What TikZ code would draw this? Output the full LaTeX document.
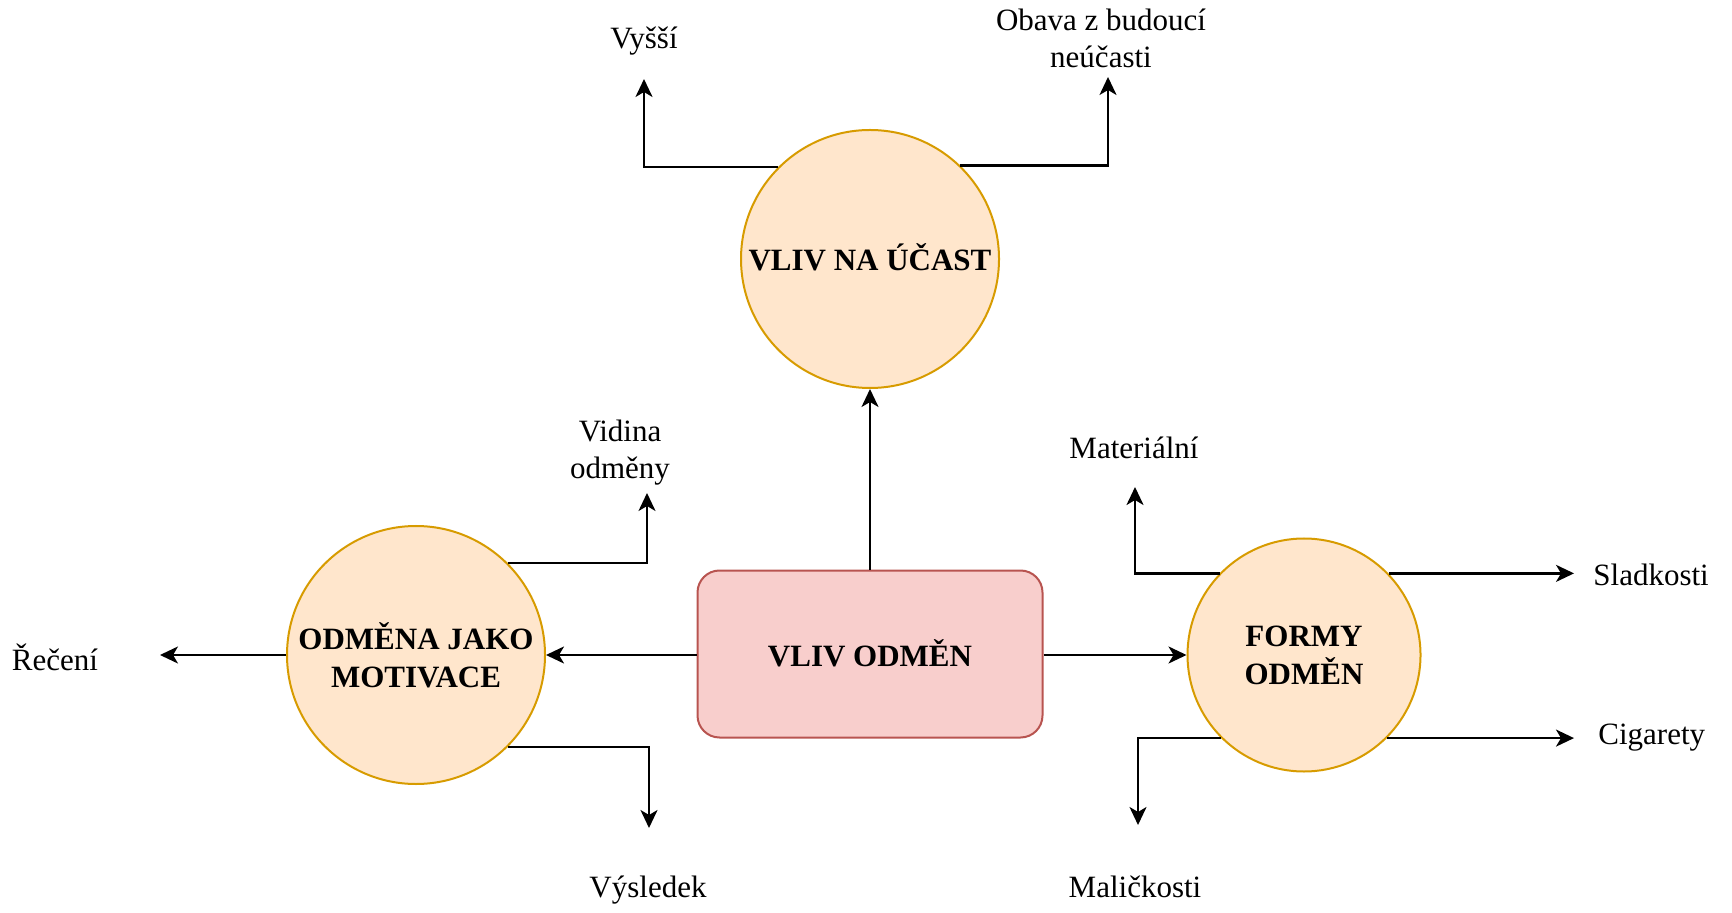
\documentclass[tikz,border=0pt]{standalone}
\usepackage{fontspec}
\setmainfont{Liberation Serif}
\usetikzlibrary{arrows.meta}
\definecolor{circfill}{HTML}{FFE6CC}
\definecolor{circline}{HTML}{D79B00}
\definecolor{boxfill}{HTML}{F8CECC}
\definecolor{boxline}{HTML}{B85450}

\begin{document}
\begin{tikzpicture}[x=0.5pt,y=-0.5pt,
  topic/.style={circle, draw=circline, fill=circfill, line width=1pt, inner sep=0pt,
    font=\fontsize{15.5}{19}\selectfont\bfseries, align=center},
  core/.style={rectangle, rounded corners=11pt, draw=boxline, fill=boxfill, line width=1pt,
    minimum width=172.5pt, minimum height=83.5pt, font=\fontsize{15.5}{19}\selectfont\bfseries},
  lbl/.style={font=\fontsize{15.5}{18.5}\selectfont, align=center, inner sep=0pt},
  arr/.style={-{Stealth[length=9pt,width=8.5pt,inset=2.5pt]}, line width=1.15pt}
]
\useasboundingbox (0,0) rectangle (1732,913);

% central box and the three topic circles
\node[core] (core) at (870,654) {\raisebox{1pt}{VLIV ODMĚN}};
\node[topic, minimum size=129pt] (ucast) at (870,259) {\raisebox{1.5pt}{VLIV NA ÚČAST}};
\node[topic, minimum size=129pt] (motiv) at (416,655) {ODMĚNA JAKO\\MOTIVACE};
\node[topic, minimum size=116.5pt] (formy) at (1304,655) {FORMY\\ODMĚN};

% leaf labels
\node[lbl] (vyssi) at (644,41) {Vyšší};
\node[lbl] (obava) at (1101,38) {Obava z budoucí\\neúčasti};
\node[lbl] (vidina) at (620,453) {Vidina\\odměny};
\node[lbl] (vysledek) at (648,890) {Výsledek};
\node[lbl] (receni) at (55,657) {Řečení};
\node[lbl] (mater) at (1134,448) {Materiální};
\node[lbl] (malic) at (1135,887) {Maličkosti};
\node[lbl, anchor=west] (sladk) at (1593,575) {Sladkosti};
\node[lbl, anchor=west] (cigar) at (1598,738) {Cigarety};

% arrow tips in front of the labels
\coordinate (tVyssi) at (644,79);
\coordinate (tObava) at (1108,77);
\coordinate (tVidina) at (647,493);
\coordinate (tVysledek) at (649,828);
\coordinate (tReceni) at (160,655);
\coordinate (tMater) at (1135,487);
\coordinate (tMalic) at (1138,825);
\coordinate (tSladk) at (1574,573);
\coordinate (tCigar) at (1574,737);

% from the central box
\draw[arr] (core.north) -- (ucast.south);
\draw[arr] (core.west |- motiv.east) -- (motiv.east);
\draw[arr] (core.east |- formy.west) -- (formy.west);

% branches of the upper circle
\draw[arr] (ucast.135) -| (tVyssi);
\draw[arr] (ucast.46) -| (tObava);

% branches of the left circle
\draw[arr] (motiv.45) -| (tVidina);
\draw[arr] (motiv.-45) -| (tVysledek);
\draw[arr] (motiv.west) -- (tReceni);

% branches of the right circle
\draw[arr] (formy.136) -| (tMater);
\draw[arr] (formy.225) -| (tMalic);
\draw[arr] (formy.44) -- (formy.44 -| tSladk);
\draw[arr] (formy.-45) -- (formy.-45 -| tCigar);
\end{tikzpicture}
\end{document}
